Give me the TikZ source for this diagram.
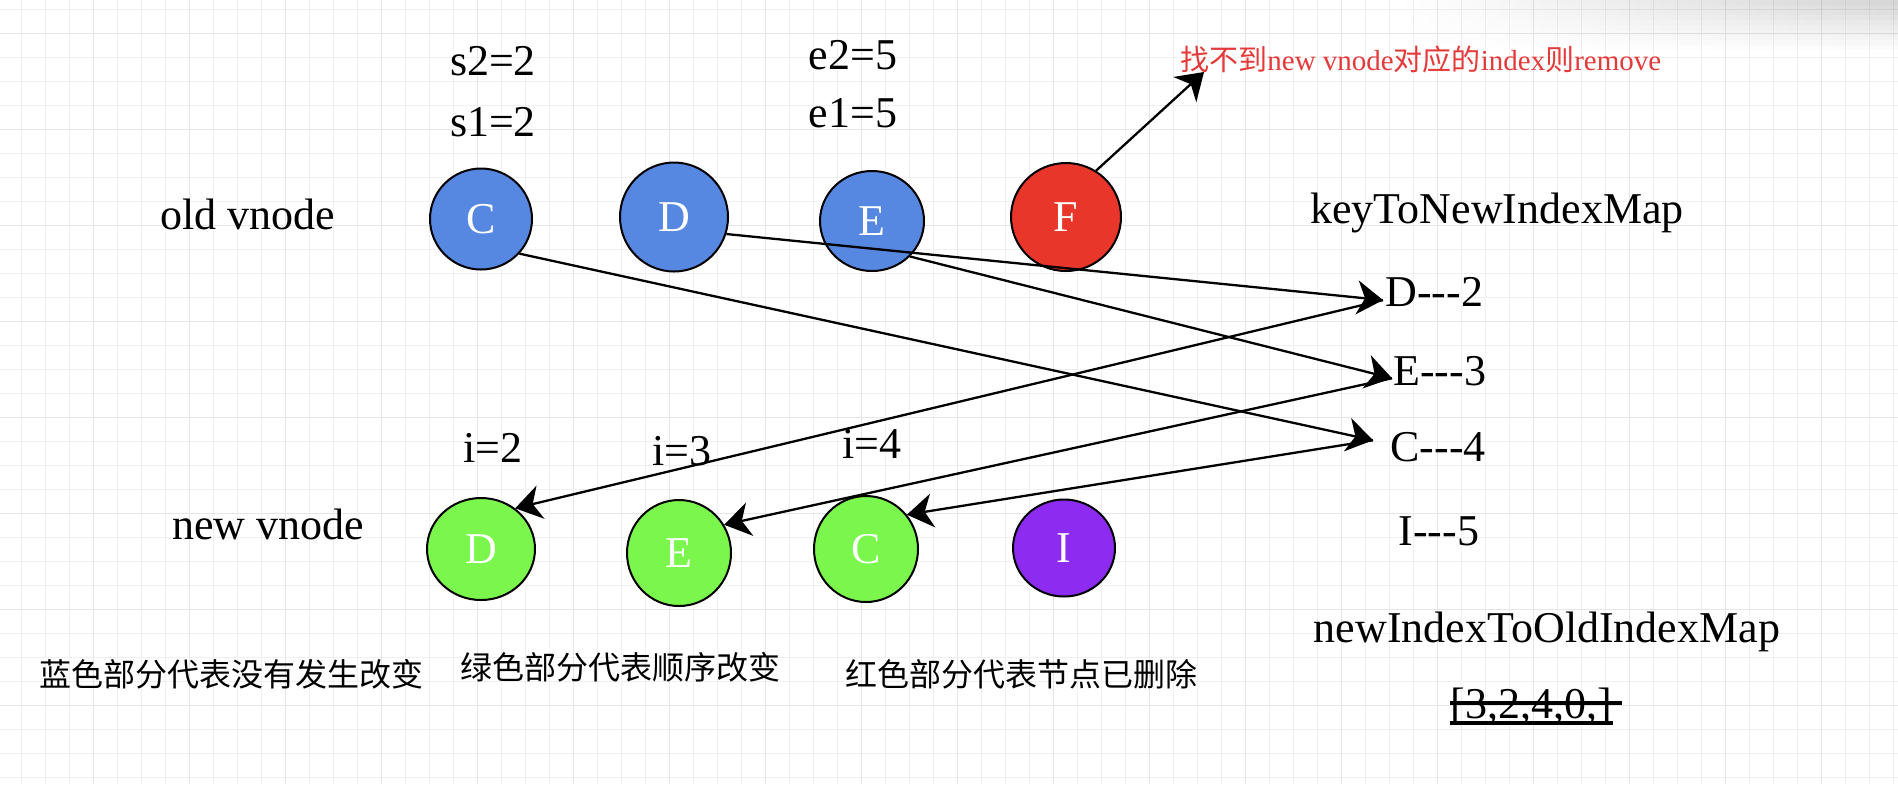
\documentclass[tikz,border=0pt]{standalone}
\usepackage{fontspec}
\setmainfont{Liberation Serif}
\newfontfamily\cjk{Noto Sans CJK SC}
\usetikzlibrary{shapes.geometric,arrows.meta,fadings}

\definecolor{oldblue}{HTML}{5687E1}
\definecolor{delred}{HTML}{E8362A}
\definecolor{movegreen}{HTML}{7AF64C}
\definecolor{newpurple}{HTML}{8E2BF0}
\definecolor{notered}{HTML}{E53A3A}
\definecolor{gridminor}{HTML}{F0F0F0}
\definecolor{gridmajor}{HTML}{E6E6E6}

\tikzfading[name=fadefromleft, left color=transparent!100, right color=transparent!0]

\begin{document}
\begin{tikzpicture}[x=0.5pt, y=-0.5pt,
  vnode/.style={ellipse, draw=black, line width=1pt, inner sep=0pt, text=white,
    font=\fontsize{22}{26}\selectfont},
  lbl/.style={inner sep=0pt, font=\fontsize{22}{26}\selectfont},
  zh/.style={inner sep=0pt, font=\cjk\fontsize{16}{20}\selectfont},
  link/.style={line width=1.15pt, -{Stealth[length=13pt,width=17pt,inset=4pt]}},
]
\useasboundingbox (0,0) rectangle (1898,784);
\fill[white] (0,0) rectangle (1898,784);

% canvas grid
\foreach \x in {21,45,...,1898} \draw[gridminor, line width=0.5pt] (\x,0) -- (\x,784);
\foreach \y in {9,33,...,784} \draw[gridminor, line width=0.5pt] (0,\y) -- (1898,\y);
\foreach \x in {93,189,...,1898} \draw[gridmajor, line width=0.5pt] (\x,0) -- (\x,784);
\foreach \y in {33,129,...,784} \draw[gridmajor, line width=0.5pt] (0,\y) -- (1898,\y);

% soft shadow along the top right edge
\foreach \k in {0,...,9}
  \fill[black, opacity={0.16*(1-\k/10)}, path fading=fadefromleft]
    (1400,{5*\k}) rectangle (1898,{5*\k+5});

% old children
\node[vnode, fill=oldblue, minimum width=51pt, minimum height=50.5pt] (oc) at (481,219) {C};
\node[vnode, fill=oldblue, minimum width=54pt, minimum height=54.5pt] (od) at (674,217) {D};
\node[vnode, fill=oldblue, minimum width=52pt, minimum height=50pt] (oe) at (872,221) {E};
\node[vnode, fill=delred, minimum width=55pt, minimum height=54pt] (of) at (1066,217) {F};

% new children
\node[vnode, fill=movegreen, minimum width=54pt, minimum height=51pt] (nd) at (481,549) {D};
\node[vnode, fill=movegreen, minimum width=52pt, minimum height=53pt] (ne) at (679,553) {E};
\node[vnode, fill=movegreen, minimum width=52pt, minimum height=53pt] (nc) at (866,549) {C};
\node[vnode, fill=newpurple, minimum width=51pt, minimum height=48.5pt] (ni) at (1064,548) {I};

% index labels
\node[lbl, anchor=base] (s2) at (493,75) {s2=2};
\node[lbl, anchor=base] (s1) at (493,136) {s1=2};
\node[lbl, anchor=base] (e2) at (853,69) {e2=5};
\node[lbl, anchor=base] (e1) at (853,127) {e1=5};
\node[lbl, anchor=base] (i2) at (493,462) {i=2};
\node[lbl, anchor=base] (i3) at (682,465) {i=3};
\node[lbl, anchor=base] (i4) at (872,458) {i=4};

\node[lbl, anchor=base] (oldlbl) at (248,229) {old vnode};
\node[lbl, anchor=base] (newlbl) at (268,539) {new vnode};

% key -> new index map
\node[lbl, anchor=base] (kmap) at (1497,223) {keyToNewIndexMap};
\node[lbl, anchor=base west] (d2) at (1385,306) {D-{}-{}-2};
\node[lbl, anchor=base west] (e3) at (1393,385) {E-{}-{}-3};
\node[lbl, anchor=base west] (c4) at (1390,461) {C-{}-{}-4};
\node[lbl, anchor=base west] (i5) at (1398,545) {I-{}-{}-5};

% new index -> old index map
\node[lbl, anchor=base] (nmap) at (1547,642) {newIndexToOldIndexMap};
\node[lbl, anchor=base west] (arr) at (1450,718) {[3,2,4,0,]};
\draw[line width=2pt] ([yshift=7.5pt]arr.base west) -- ++(172,0);
\draw[line width=2pt] ([yshift=-2.5pt]arr.base west) -- ++(163,0);

% removal note
\node[anchor=base west, inner sep=0pt, text=notered, font=\fontsize{14.5}{18}\selectfont] (note)
  at (1180,70) {{\cjk 找不到}new vnode{\cjk 对应的}index{\cjk 则}remove};

% legend
\node[zh, anchor=west] (zh1) at (39,674) {蓝色部分代表没有发生改变};
\node[zh, anchor=west] (zh2) at (460,667) {绿色部分代表顺序改变};
\node[zh, anchor=west] (zh3) at (845,674) {红色部分代表节点已删除};

% connectors
\draw[link] (oc.-42) -- ([xshift=-8.5pt,yshift=3.2pt]c4.west);
\draw[link] (od.-18) -- ([xshift=-1pt,yshift=-4.3pt]d2.west);
\draw[link] (oe.-43) -- ([xshift=-0.5pt,yshift=-3.8pt]e3.west);
\draw[link] ([xshift=-1pt,yshift=-4.3pt]d2.west) -- (nd.50);
\draw[link] ([xshift=-0.5pt,yshift=-3.8pt]e3.west) -- (ne.32);
\draw[link] ([xshift=-8.5pt,yshift=3.2pt]c4.west) -- (nc.40);
\draw[link] (of.57) -- ([xshift=12pt,yshift=-1pt]note.base west);
\end{tikzpicture}
\end{document}
